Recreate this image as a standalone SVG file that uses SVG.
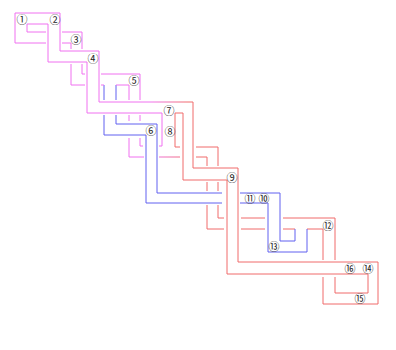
<svg xmlns="http://www.w3.org/2000/svg" width="396" height="350" viewBox="0 0 396 350">
<defs>
<linearGradient id="gmr" gradientUnits="userSpaceOnUse" x1="150" y1="0" x2="188" y2="0">
<stop offset="0" stop-color="#f070f0"/><stop offset="1" stop-color="#f06a6a"/>
</linearGradient>
<style>
path{fill:none;stroke-width:1}
.m{stroke:#f070f0}
.b{stroke:#6060f0}
.r{stroke:#f06a6a}
.g{stroke:url(#gmr)}
text{font-family:'Noto Sans CJK JP','DejaVu Sans',sans-serif;font-size:11px;fill:#222;text-anchor:middle;dominant-baseline:central}
</style>
</defs>
<rect width="396" height="350" fill="#fff"/>
<g id="connectors">
<!-- strand A -->
<path class="m" d="M46,43 H15 V13 H60 V51 H99 V102 H150"/>
<path class="g" d="M150,102 H188"/>
<path class="r" d="M188,102 H193 V168 H238 V262 H378 V304 H323 V277"/>
<path class="r" d="M323,260 V229 H307"/>
<path class="b" d="M307,229 V252 H268 V203 H240 M222,203 H146 V135 H104 V115 M104,100 V85"/>
<path class="m" d="M104,85 H101 M85,85 H71 V64 M71,49 V43 H62"/>
<!-- strand M2 -->
<path class="m" d="M27,24 H48 V62 H87 V113 H162 V146 H159 M143,146 H140 V138 M140,121 V115 M140,100 V74 H101 M85,74 H82 V64 M82,49 V32 H62 M46,32 H27 V24"/>
<!-- strand B -->
<path class="b" d="M116,100 V85"/>
<path class="m" d="M116,85 H129 V100 M129,115 V121 M129,138 V157 H144"/>
<path class="g" d="M159,157 H180"/>
<path class="r" d="M196,157 H207 V166 M207,182 V191 M207,205 V229 H224 M241,229 H265 M283,229 H295"/>
<path class="b" d="M295,229 V241 H280 V193 H240 M222,193 H157 V124 H116 V115"/>
<!-- red loop -->
<path class="r" d="M175,147 V113 H183 V180 H227 V274 H368 V293 H335 V277 M335,260 V218 H283 M265,218 H241 M224,218 H218 V205 M218,191 V182 M218,166 V147 H196 M180,147 H175"/>
</g>
<g id="n1"><text x="22" y="19">①</text></g>
<g id="n2"><text x="55" y="19">②</text></g>
<g id="n3"><text x="76" y="39">③</text></g>
<g id="n4"><text x="93" y="58">④</text></g>
<g id="n5"><text x="134" y="80">⑤</text></g>
<g id="n6"><text x="151" y="130">⑥</text></g>
<g id="n7"><text x="169" y="110">⑦</text></g>
<g id="n8"><text x="170" y="131">⑧</text></g>
<g id="n9"><text x="232" y="177">⑨</text></g>
<g id="n11"><text x="250" y="198">⑪</text></g>
<g id="n10"><text x="264" y="198">⑩</text></g>
<g id="n12"><text x="328" y="225">⑫</text></g>
<g id="n13"><text x="274" y="246">⑬</text></g>
<g id="n16"><text x="350" y="268">⑯</text></g>
<g id="n14"><text x="368" y="268">⑭</text></g>
<g id="n15"><text x="360" y="298">⑮</text></g>
</svg>
